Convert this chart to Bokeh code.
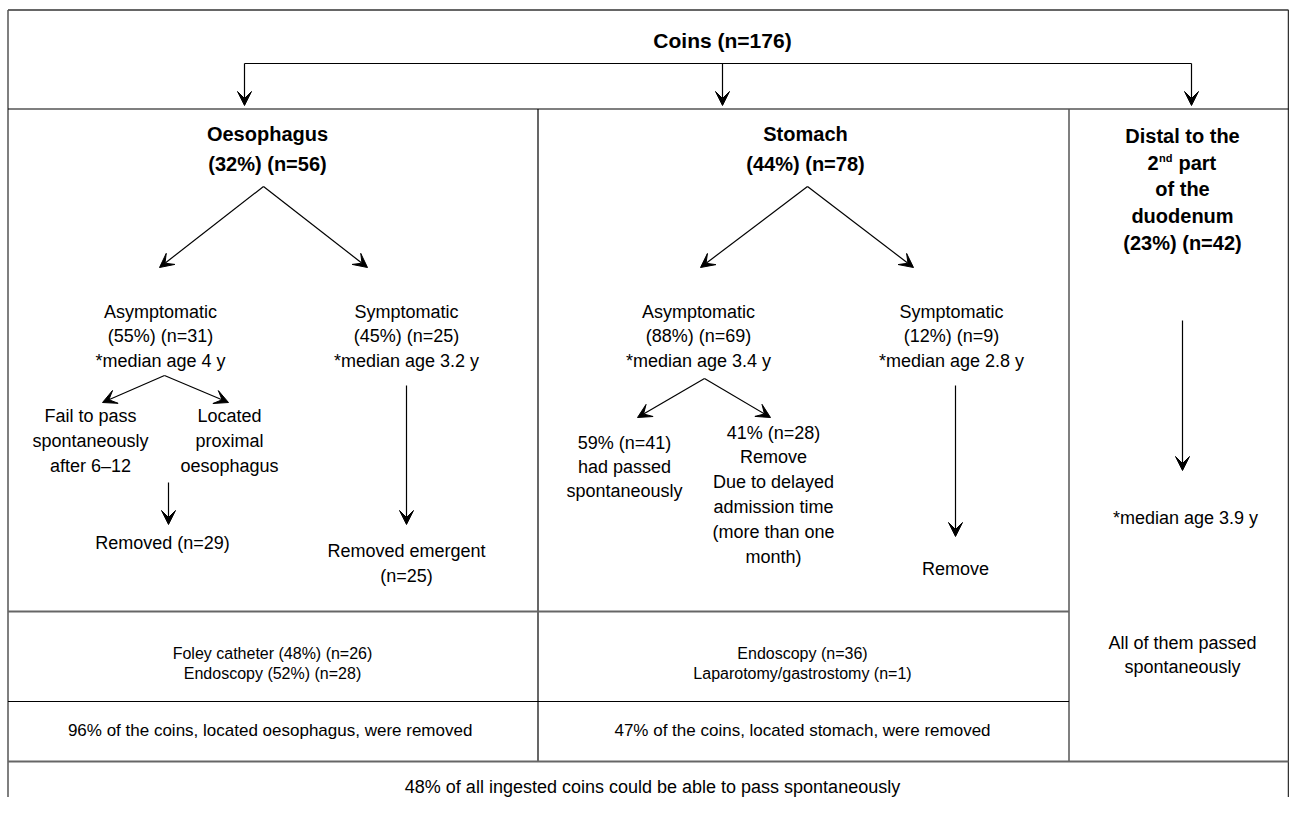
from bokeh.plotting import figure
from bokeh.models import Range1d, Arrow, VeeHead, ColumnDataSource
from bokeh.core.properties import value
from bokeh.embed import file_html
from bokeh.resources import INLINE

# ---------------- data (texts of the flowchart) ----------------
title = "Coins (n=176)"
sites = ["Oesophagus", "Stomach", "Distal to the duodenum"]
site_share = ["(32%) (n=56)", "(44%) (n=78)", "(23%) (n=42)"]
oes_groups = [["Asymptomatic", "(55%) (n=31)", "*median age 4 y"],
              ["Symptomatic", "(45%) (n=25)", "*median age 3.2 y"]]
sto_groups = [["Asymptomatic", "(88%) (n=69)", "*median age 3.4 y"],
              ["Symptomatic", "(12%) (n=9)", "*median age 2.8 y"]]
oes_asym_sub = [["Fail to pass", "spontaneously", "after 6\u201312"],
                ["Located", "proximal", "oesophagus"]]
oes_results = [["Removed (n=29)"], ["Removed emergent", "(n=25)"]]
sto_asym_sub = [["59% (n=41)", "had passed", "spontaneously"],
                ["41% (n=28)", "Remove", "Due to delayed", "admission time",
                 "(more than one", "month)"]]
sto_results = [["Remove"]]
distal_age = "*median age 3.9 y"
distal_result = ["All of them passed", "spontaneously"]
methods = [["Foley catheter (48%) (n=26)", "Endoscopy (52%) (n=28)"],
           ["Endoscopy (n=36)", "Laparotomy/gastrostomy (n=1)"]]
removal = ["96% of the coins, located  oesophagus, were removed",
           "47% of the coins, located stomach, were removed"]
summary = "48% of all ingested coins could be able to pass spontaneously"

# ---------------- figure ----------------
W, H = 1289, 797
p = figure(width=W, height=H, output_backend="svg", toolbar_location=None,
           x_range=Range1d(0, W), y_range=Range1d(H, 0),
           min_border=0, outline_line_color=None)
p.axis.visible = False
p.grid.visible = False
p.background_fill_color = "white"

FONT = value("Liberation Sans")

# ---------------- layout ----------------
XL, XR = 7.5, W - 1
XD1, XD2 = 537.5, 1068.5
Y_TOP, Y0, Y1, Y2, Y3 = 9.5, 108.5, 611, 701, 761
C_OES, C_STO, C_DIS = 272, 802, 1182

def seg(xs, ys, color="black", width=1.0):
    p.line(xs, ys, line_color=color, line_width=width)

# frame
seg([XL, XR], [Y_TOP, Y_TOP], "#666666", 2)
seg([XL, XL], [Y_TOP, H + 5], "#555555", 1.5)
seg([XR, XR], [Y_TOP, H + 5], "#333333", 1.5)
seg([XL, XR], [Y0, Y0], "black", 1.2)
seg([XD1, XD1], [Y0, Y3], "black", 1.2)
seg([XD2, XD2], [Y0, Y3], "#555555", 1.5)
seg([XL, XD2], [Y1, Y1], "#666666", 2)
seg([XL, XD2], [Y2, Y2], "black", 1.2)
seg([XL, XR], [Y3, Y3], "#666666", 2)

# top connector
seg([244, 1191], [63, 63], "black", 1.2)

arrows = [
    (244, 63, 244, 105), (722, 63, 722, 105), (1191, 63, 1191, 105),
    (263, 186, 159, 267), (263, 186, 367, 267),
    (807, 186, 700, 267), (807, 186, 913, 267),
    (164, 375, 102, 402), (164, 375, 228, 402),
    (704, 378, 637, 417), (704, 378, 770, 417),
    (168, 482, 168, 524), (406, 385, 406, 524),
    (955, 385, 955, 536), (1182, 320, 1182, 470),
]
for x0, y0, x1, y1 in arrows:
    p.add_layout(Arrow(x_start=x0, y_start=y0, x_end=x1, y_end=y1,
                       line_color="black", line_width=1.2,
                       end=VeeHead(size=14, fill_color="black",
                                   line_color="black", line_width=1)))

# ---------------- texts ----------------
def block(lines, x, y_first, dy, size, style="normal"):
    ys = [y_first + i * dy for i in range(len(lines))]
    src = ColumnDataSource(dict(x=[x] * len(lines), y=ys, t=lines))
    p.text("x", "y", text="t", source=src, text_align="center",
           text_baseline="middle", text_font=FONT, text_font_size=size,
           text_font_style=style, text_color="black")

block([title], 722, 40, 0, "21px", style="bold")
block([sites[0], site_share[0]], 267, 133, 30, "20px", style="bold")
block([sites[1], site_share[1]], 805, 133, 30, "20px", style="bold")

# distal header with superscript
block(["Distal to the"], C_DIS, 135, 0, "20px", style="bold")
hx = C_DIS - 35
p.text([hx], [162], text=["2"], text_align="left", text_baseline="middle",
       text_font=FONT, text_font_size="20px", text_font_style="bold")
p.text([hx + 11.5], [157], text=["nd"], text_align="left", text_baseline="middle",
       text_font=FONT, text_font_size="11px", text_font_style="bold")
p.text([hx + 31], [162], text=["part"], text_align="left", text_baseline="middle",
       text_font=FONT, text_font_size="20px", text_font_style="bold")
block(["of the", "duodenum", site_share[2]], C_DIS, 188, 27, "20px", style="bold")

block(oes_groups[0], 160, 311, 24.5, "18px")
block(oes_groups[1], 406, 311, 24.5, "18px")
block(sto_groups[0], 698, 311, 24.5, "18px")
block(sto_groups[1], 951, 311, 24.5, "18px")

block(oes_asym_sub[0], 90, 415, 25, "18px")
block(oes_asym_sub[1], 229, 415, 25, "18px")
block(oes_results[0], 162, 542, 25, "18px")
block(oes_results[1], 406, 550, 25, "18px")

block(sto_asym_sub[0], 624, 442, 24, "18px")
block(sto_asym_sub[1], 773, 432, 24.8, "18px")
block(sto_results[0], 955, 568, 25, "18px")

block([distal_age], 1185, 517, 0, "18px")
block(distal_result, C_DIS, 642, 24, "18px")

block(methods[0], C_OES, 653, 19.5, "16px")
block(methods[1], C_STO, 653, 19.5, "16px")
block([removal[0]], C_OES, 730, 0, "17px")
block([removal[1]], C_STO, 730, 0, "17px")
block([summary], 652, 786, 0, "18px")

open("out.html", "w").write(file_html(p, INLINE))
